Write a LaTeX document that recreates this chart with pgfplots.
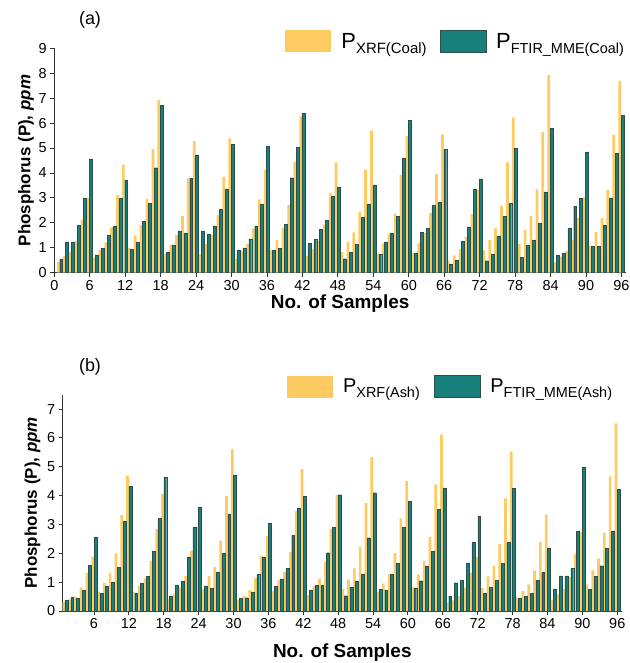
\documentclass[border=0pt]{standalone}
\usepackage{fontspec}
\setmainfont{Liberation Sans}
\usepackage{pgfplots}
\usepackage{pgfplotstable}
\pgfplotsset{compat=1.18}
\definecolor{xrf}{HTML}{FDCB62}
\definecolor{ftir}{HTML}{17807A}
\definecolor{ftiredge}{HTML}{2C4F4C}
\definecolor{axcol}{HTML}{333333}

\pgfplotstableread{
x a b
1 0.42 0.53
2 0.67 1.22
3 0.85 1.22
4 1.28 1.90
5 2.13 2.98
6 3.00 4.57
7 0.60 0.72
8 0.92 0.98
9 1.22 1.50
10 1.82 1.85
11 3.10 2.98
12 4.33 3.72
13 1.00 0.95
14 1.50 1.23
15 1.92 2.07
16 2.97 2.78
17 4.96 4.21
18 6.92 6.71
19 0.75 0.83
20 1.12 1.12
21 1.52 1.68
22 2.27 1.60
23 3.78 3.78
24 5.28 4.72
25 0.75 1.68
26 1.15 1.55
27 1.52 1.88
28 2.31 2.55
29 3.84 3.36
30 5.39 5.15
31 0.55 0.91
32 0.88 1.00
33 1.16 1.36
34 1.78 1.88
35 2.94 2.75
36 4.13 5.09
37 0.91 0.91
38 1.31 0.99
39 1.80 1.94
40 2.71 3.81
41 4.45 5.04
42 6.27 6.38
43 0.66 1.18
44 0.94 1.34
45 1.27 1.75
46 1.93 2.09
47 3.20 3.05
48 4.43 3.44
49 0.83 0.56
50 1.23 0.83
51 1.62 1.16
52 2.45 2.21
53 4.12 2.75
54 5.70 3.52
55 0.78 0.74
56 1.18 1.24
57 1.55 1.59
58 2.37 2.27
59 3.92 4.61
60 5.49 6.12
61 0.79 0.79
62 1.19 1.62
63 1.60 1.78
64 2.39 2.69
65 3.96 2.83
66 5.55 4.96
67 0.48 0.35
68 0.70 0.51
69 0.95 1.27
70 1.43 1.83
71 2.35 3.34
72 3.33 3.76
73 0.91 0.48
74 1.32 0.76
75 1.78 1.47
76 2.67 2.27
77 4.43 2.78
78 6.22 5.00
79 1.15 0.61
80 1.72 1.11
81 2.27 1.32
82 3.34 1.97
83 5.64 3.24
84 7.93 5.78
85 0.41 0.71
86 0.64 0.79
87 0.87 1.80
88 1.31 2.67
89 2.19 2.97
90 3.02 4.85
91 1.07 1.06
92 1.64 1.07
93 2.19 1.91
94 3.32 2.98
95 5.52 4.79
96 7.69 6.31
}\coaltable

\pgfplotstableread{
x c d
1 0.32 0.37
2 0.40 0.47
3 0.51 0.44
4 0.82 0.73
5 1.33 1.59
6 1.88 2.56
7 0.68 0.60
8 0.98 0.86
9 1.33 0.99
10 2.00 1.52
11 3.33 3.10
12 4.69 4.33
13 0.67 0.63
14 0.87 0.96
15 1.13 1.20
16 1.74 2.07
17 2.85 3.20
18 4.05 4.64
19 0.42 0.52
20 0.60 0.91
21 0.81 1.04
22 1.22 1.88
23 2.09 2.91
24 2.91 3.59
25 0.76 0.87
26 1.21 0.79
27 1.52 1.36
28 2.44 2.00
29 3.98 3.37
30 5.60 4.72
31 0.38 0.44
32 0.53 0.46
33 0.72 0.66
34 1.14 1.26
35 1.90 1.85
36 2.60 3.03
37 0.69 0.85
38 1.07 1.11
39 1.36 1.47
40 2.04 2.62
41 3.46 3.57
42 4.92 3.98
43 0.55 0.72
44 0.85 0.88
45 1.11 0.88
46 1.70 2.02
47 2.85 2.91
48 4.02 4.03
49 0.77 0.53
50 1.09 0.81
51 1.48 1.04
52 2.22 1.27
53 3.74 2.54
54 5.33 4.10
55 0.66 0.75
56 0.96 0.73
57 1.28 1.26
58 2.01 1.64
59 3.21 2.91
60 4.50 3.79
61 0.84 0.79
62 1.27 1.05
63 1.73 1.56
64 2.57 2.07
65 4.39 3.53
66 6.11 4.27
67 0.28 0.52
68 0.37 0.98
69 0.52 1.06
70 0.81 1.67
71 1.33 2.37
72 1.87 3.27
73 0.79 0.62
74 1.20 0.84
75 1.56 1.07
76 2.32 1.66
77 3.90 2.38
78 5.52 4.24
79 0.47 0.44
80 0.70 0.52
81 0.92 0.60
82 1.40 1.06
83 2.39 1.33
84 3.34 2.16
85 0.38 0.77
86 0.58 1.22
87 0.76 1.22
88 1.18 1.48
89 1.97 2.78
90 2.75 4.98
91 0.92 0.76
92 1.41 1.20
93 1.82 1.57
94 2.71 2.19
95 4.67 2.76
96 6.50 4.21
}\ashtable

\pgfplotsset{
  myaxis/.style={
    scale only axis,
    axis lines*=left,
    axis line style={axcol, line width=0.9bp},
    tick style={axcol, line width=0.9bp},
    tick align=outside,
    major tick length=4bp,
    xtick={0,6,...,96},
    ymin=0,
    ticklabel style={font=\fontsize{14.5}{17}\selectfont, text=black},
    /pgf/number format/assume math mode=true,
    xlabel={No. of Samples},
    xlabel style={font=\fontsize{19}{22}\selectfont\bfseries},
    ylabel={Phosphorus (P), \textit{ppm}},
    ylabel style={font=\fontsize{17}{20}\selectfont\bfseries},
    legend columns=2,
    legend cell align=left,
    legend style={draw=none, fill=none, inner sep=0pt,
      /tikz/every odd column/.append style={column sep=9bp},
      nodes={inner sep=1bp}},
  },
  xrfbar/.style={ybar, fill=xrf, draw=none, bar width=0.46,
    legend image code/.code={\fill[xrf] (0bp,-11bp) rectangle (46bp,11bp);}},
  ftirbar/.style={ybar, fill=ftir, draw=ftiredge, line width=0.4bp, bar width=0.5,
    legend image code/.code={\filldraw[fill=ftir, draw=ftiredge, line width=0.6bp] (0bp,-11bp) rectangle (46bp,11bp);}},
}

\begin{document}
\begin{tikzpicture}
\useasboundingbox (0bp,0bp) rectangle (630bp,-663bp);
\node[font=\fontsize{18}{20}\selectfont] at (90bp,-20bp) {(a)};
\node[font=\fontsize{18}{20}\selectfont] at (90bp,-367bp) {(b)};
\begin{axis}[myaxis,
  at={(54.3bp,-272.7bp)}, anchor=south west,
  width=571.6bp, height=224.4bp,
  xmin=0, xmax=96.75, ymax=9, ytick={0,1,...,9},
  xlabel style={yshift=3bp},
  ylabel style={yshift=-2bp},
  legend style={at={(0.404,0.98)}, anchor=south west,
    /tikz/every even column/.append style={column sep=12bp}},
]
\addplot[xrfbar, bar shift=-0.31] table[x=x, y=a] {\coaltable};
\addlegendentry{\fontsize{22}{24}\selectfont P\raisebox{-5bp}{\fontsize{15}{16}\selectfont XRF(Coal)}}
\addplot[ftirbar, bar shift=0.17] table[x=x, y=b] {\coaltable};
\addlegendentry{\fontsize{22}{24}\selectfont P\raisebox{-5bp}{\fontsize{14.5}{16}\selectfont FTIR\_MME(Coal)}}
\end{axis}
\begin{axis}[myaxis,
  at={(62.7bp,-611bp)}, anchor=south west,
  width=559.2bp, height=216.4bp,
  xmin=0.62, xmax=96.8, ymax=7.5, ytick={0,1,...,7},
  xtick={6,12,...,96},
  xlabel style={yshift=-8bp},
  legend style={at={(0.401,0.984)}, anchor=south west,
    /tikz/every even column/.append style={column sep=13bp}},
]
\addplot[xrfbar, bar shift=-0.22] table[x=x, y=c] {\ashtable};
\addlegendentry{\fontsize{20}{24}\selectfont P\raisebox{-5bp}{\fontsize{14.5}{16}\selectfont XRF(Ash)}}
\addplot[ftirbar, bar shift=0.26] table[x=x, y=d] {\ashtable};
\addlegendentry{\fontsize{20}{24}\selectfont P\raisebox{-5bp}{\fontsize{14.5}{16}\selectfont FTIR\_MME(Ash)}}
\end{axis}
\end{tikzpicture}
\end{document}
